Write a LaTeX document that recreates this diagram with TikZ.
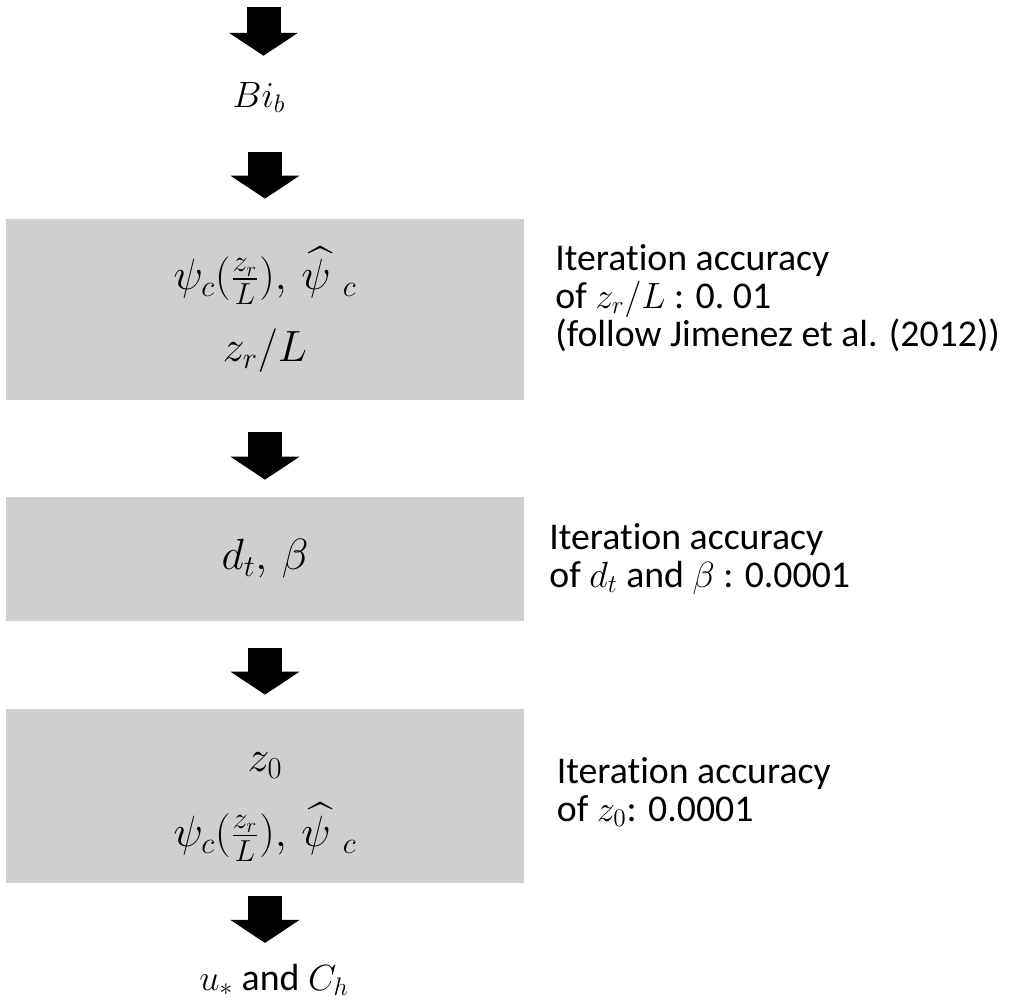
\documentclass[tikz,border=0pt]{standalone}
\usepackage{fontspec}
\newfontfamily\carlito{Carlito}[Ligatures=NoCommon]
\usepackage{amsmath}
\usetikzlibrary{calc, arrows.meta}

\definecolor{boxgray}{RGB}{208,206,207}

\begin{document}
\begin{tikzpicture} [>=latex,
    fatarrow/.style={line width=0.68cm, -{Triangle[length=0.46cm, width=1.36cm]}},
    stepbox/.style={fill=boxgray, minimum width=10.36cm, align=center, inner sep=0pt},
    note/.style={anchor=base west, align=left, inner sep=0pt, font=\carlito\fontsize{21.5}{21.6}\selectfont}]
        \def\bx{5.3}

        \useasboundingbox (0,0) rectangle (20.32,-20.02);

        \coordinate (start) at (5.27,-0.14);

        \node[anchor=base, inner sep=0pt, font=\fontsize{22}{26}\selectfont] (bi) at (5.18,-2.14) {$Bi_b$};

        \node[stepbox, minimum height=3.62cm, font=\fontsize{23.5}{41}\selectfont] (box1) at (\bx,-6.19)
            {$\psi_c(\frac{z_r}{L}),\,\widehat{\psi}\;{}_c$ \\ $z_r/L$};
        \node[stepbox, minimum height=2.48cm, font=\fontsize{23.5}{26}\selectfont] (box2) at (\bx,-11.18)
            {$d_t,\,\beta$};
        \node[stepbox, minimum height=3.48cm, font=\fontsize{23.5}{42.7}\selectfont] (box3) at (\bx,-15.92)
            {\rule{0pt}{0.82cm}$z_0$ \\ $\psi_c(\frac{z_r}{L}),\,\widehat{\psi}\;{}_c$};

        \node[anchor=base, inner sep=0pt, font=\carlito\fontsize{21.5}{26}\selectfont] (out) at (5.48,-19.8)
            {$u_*$ and $C_h$};

        % anchor base is the last line
        \node[note] (acc1) at (11.1,-6.92)
            {Iteration accuracy\\ of $z_r/L$ : 0.\ 01\\ (follow Jimenez et al. (2012))};
        \node[note] (acc2) at (10.98,-11.74)
            {Iteration accuracy\\ of $d_t$ and $\beta$ : 0.0001};
        \node[note] (acc3) at (11.13,-16.42)
            {Iteration accuracy\\ of $z_0$: 0.0001};

        \draw[fatarrow, shorten >=0.52cm] (start) -- (start |- bi.north);
        \draw[fatarrow, shorten <=0.78cm, shorten >=0.4cm] (bi.south -| box1.north) -- (box1.north);
        \draw[fatarrow, shorten <=0.64cm, shorten >=0.34cm] (box1) -- (box2);
        \draw[fatarrow, shorten <=0.54cm, shorten >=0.28cm] (box2) -- (box3);
        \draw[fatarrow, shorten <=0.26cm, shorten >=0.41cm] (box3) -- (box3 |- out.north);

    \end{tikzpicture}
\end{document}
